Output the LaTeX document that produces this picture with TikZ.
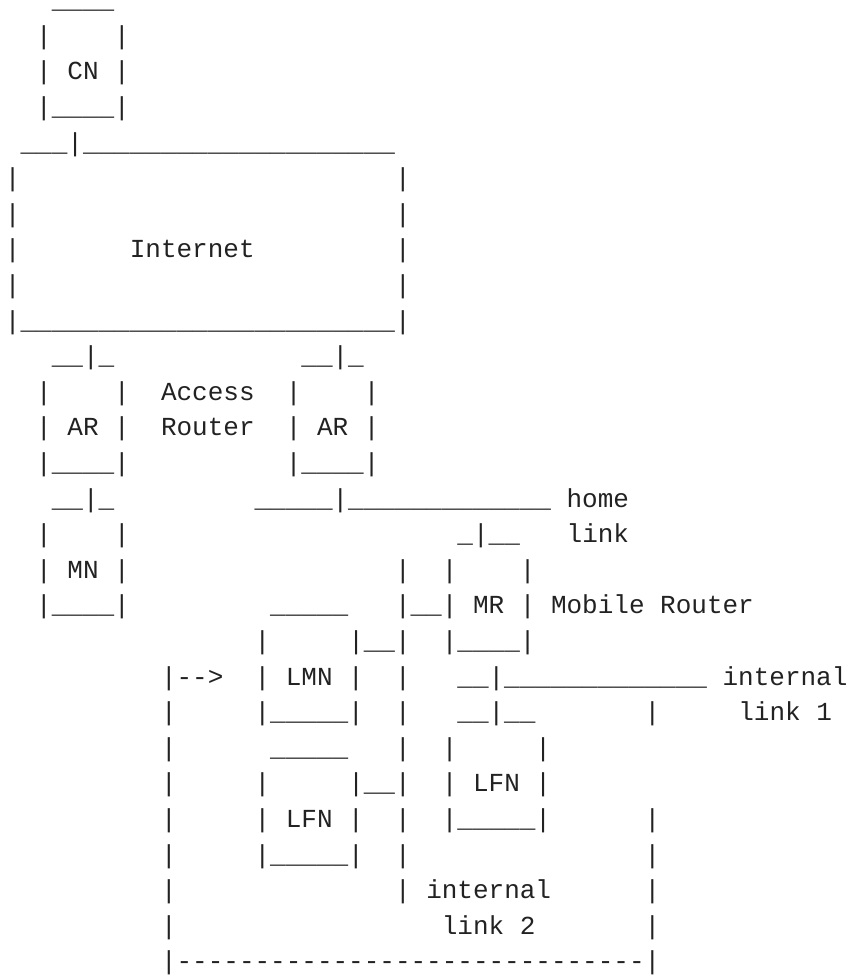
\documentclass[tikz,border=0pt]{standalone}
\usepackage{fontspec}
\setmonofont{Liberation Mono}
\ExplSyntaxOn
\cs_new:Npn \myrep #1#2 { \prg_replicate:nn {#1} {#2} }
\ExplSyntaxOff
\newcommand\sps[1]{\myrep{#1}{~}}
\newcommand\uss[1]{\myrep{#1}{\_}}
\definecolor{ink}{RGB}{34,34,34}
\tikzset{ln/.style={anchor=base west, inner sep=0pt, outer sep=0pt, text=ink,
  font=\ttfamily\fontsize{26}{26}\selectfont}}
\begin{document}
\begin{tikzpicture}[x=1pt,y=1pt]
\useasboundingbox (0,0) rectangle (851,977);
\def\X{5}
\node[ln] (l1)  at (\X,968.2) {\sps{3}\uss{4}};
\node[ln] (l2)  at (\X,932.6) {\sps{2}|\sps{4}|};
\node[ln] (l3)  at (\X,897.0) {\sps{2}|~CN~|};
\node[ln] (l4)  at (\X,861.4) {\sps{2}|\uss{4}|};
\node[ln] (l5)  at (\X,825.8) {~\uss{3}|\uss{20}};
\node[ln] (l6)  at (\X,790.2) {|\sps{24}|};
\node[ln] (l7)  at (\X,754.6) {|\sps{24}|};
\node[ln] (l8)  at (\X,719.0) {|\sps{7}Internet\sps{9}|};
\node[ln] (l9)  at (\X,683.4) {|\sps{24}|};
\node[ln] (l10) at (\X,647.8) {|\uss{24}|};
\node[ln] (l11) at (\X,612.2) {\sps{3}\uss{2}|\_\sps{12}\uss{2}|\_};
\node[ln] (l12) at (\X,576.6) {\sps{2}|\sps{4}|\sps{2}Access\sps{2}|\sps{4}|};
\node[ln] (l13) at (\X,541.0) {\sps{2}|~AR~|\sps{2}Router\sps{2}|~AR~|};
\node[ln] (l14) at (\X,505.4) {\sps{2}|\uss{4}|\sps{10}|\uss{4}|};
\node[ln] (l15) at (\X,469.8) {\sps{3}\uss{2}|\_\sps{9}\uss{5}|\uss{13}~home};
\node[ln] (l16) at (\X,434.2) {\sps{2}|\sps{4}|\sps{21}\_|\uss{2}\sps{3}link};
\node[ln] (l17) at (\X,398.6) {\sps{2}|~MN~|\sps{17}|\sps{2}|\sps{4}|};
\node[ln] (l18) at (\X,363.0) {\sps{2}|\uss{4}|\sps{9}\uss{5}\sps{3}|\uss{2}|~MR~|~Mobile~Router};
\node[ln] (l19) at (\X,327.4) {\sps{16}|\sps{5}|\uss{2}|\sps{2}|\uss{4}|};
\node[ln] (l20) at (\X,291.8) {\sps{10}|-->\sps{2}|~LMN~|\sps{2}|\sps{3}\uss{2}|\uss{13}~internal};
\node[ln] (l21) at (\X,256.2) {\sps{10}|\sps{5}|\uss{5}|\sps{2}|\sps{3}\uss{2}|\uss{2}\sps{7}|\sps{5}link~1};
\node[ln] (l22) at (\X,220.6) {\sps{10}|\sps{6}\uss{5}\sps{3}|\sps{2}|\sps{5}|};
\node[ln] (l23) at (\X,185.0) {\sps{10}|\sps{5}|\sps{5}|\uss{2}|\sps{2}|~LFN~|};
\node[ln] (l24) at (\X,149.4) {\sps{10}|\sps{5}|~LFN~|\sps{2}|\sps{2}|\uss{5}|\sps{6}|};
\node[ln] (l25) at (\X,113.8) {\sps{10}|\sps{5}|\uss{5}|\sps{2}|\sps{15}|};
\node[ln] (l26) at (\X,78.2)  {\sps{10}|\sps{14}|~internal\sps{6}|};
\node[ln] (l27) at (\X,42.6)  {\sps{10}|\sps{17}link~2\sps{7}|};
\node[ln] (l28) at (\X,7.0)   {\sps{10}|\myrep{30}{-}|};
\end{tikzpicture}
\end{document}
